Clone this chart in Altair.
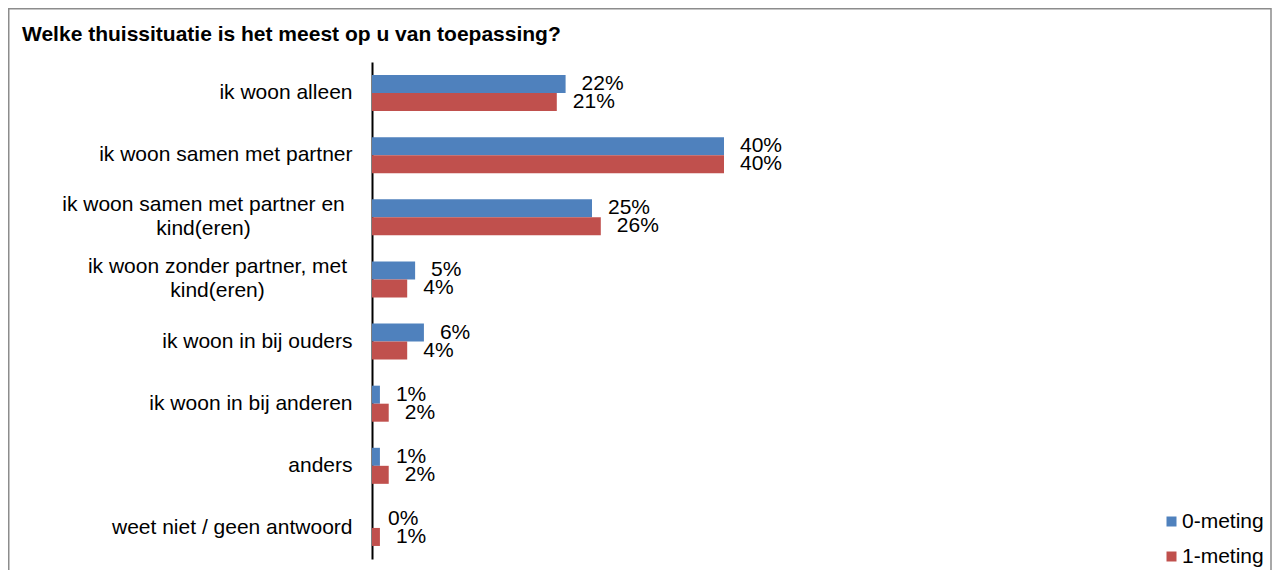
import altair as alt
import pandas as pd

title_text = "Welke thuissituatie is het meest op u van toepassing?"
categories = [
    "ik woon alleen",
    "ik woon samen met partner",
    "ik woon samen met partner en\nkind(eren)",
    "ik woon zonder partner, met\nkind(eren)",
    "ik woon in bij ouders",
    "ik woon in bij anderen",
    "anders",
    "weet niet / geen antwoord",
]
series = ["0-meting", "1-meting"]
meting0 = [22.0, 40.0, 25.0, 4.9, 5.9, 0.9, 0.9, 0.0]
meting1 = [21.0, 40.0, 26.0, 4.0, 4.0, 1.9, 1.9, 0.9]
colors = ["#4F81BD", "#C0504D"]

rows = []
for c, a, b in zip(categories, meting0, meting1):
    rows.append({"cat": c, "serie": series[0], "val": a / 100})
    rows.append({"cat": c, "serie": series[1], "val": b / 100})
df = pd.DataFrame(rows)

FONT = "Liberation Sans"
multi = "indexof(datum.value, '\\n') >= 0"

ysc = alt.Scale(paddingInner=0.42, paddingOuter=0.21)

base = alt.Chart(df).encode(
    y=alt.Y(
        "cat:N",
        sort=categories,
        scale=ysc,
        axis=alt.Axis(
            title=None,
            ticks=False,
            grid=False,
            domainColor="black",
            domainWidth=2,
            labelFont=FONT,
            labelFontSize=21,
            labelColor="black",
            labelLimit=0,
            labelLineHeight=24,
            labelExpr="split(datum.label, '\\n')",
            labelAlign={"condition": {"test": multi, "value": "center"}, "value": "right"},
            labelPadding={
                "condition": [
                    {"test": "indexof(datum.value, 'en\\n') >= 0", "value": 169},
                    {"test": "indexof(datum.value, 'met\\n') >= 0", "value": 155},
                ],
                "value": 20,
            },
            labelOffset={"condition": {"test": multi, "value": -12}, "value": 0},
        ),
    ),
    yOffset=alt.YOffset("serie:N", sort=series),
)

bars = base.mark_bar().encode(
    x=alt.X("val:Q", scale=alt.Scale(domain=[0, 0.45]), axis=None),
    color=alt.Color(
        "serie:N",
        sort=series,
        scale=alt.Scale(domain=series, range=colors),
        legend=alt.Legend(
            title=None,
            orient="none",
            legendX=789,
            legendY=449,
            symbolType="square",
            symbolSize=100,
            symbolStrokeWidth=0,
            labelFont=FONT,
            labelFontSize=21,
            labelColor="black",
            labelOffset=0,
            rowPadding=13,
            padding=0,
        ),
    ),
)

labels = base.mark_text(
    align="left", baseline="middle", dx=16, font=FONT, fontSize=21, color="black"
).encode(
    x=alt.X("val:Q", scale=alt.Scale(domain=[0, 0.45]), axis=None),
    text=alt.Text("val:Q", format=".0%"),
)

frame = alt.Chart(pd.DataFrame({"f": [0]})).mark_rect(
    fillOpacity=0, stroke="#8c8c8c", strokeWidth=1.5
).encode(
    x=alt.value(-363.25), x2=alt.value(899), y=alt.value(-53.25), y2=alt.value(520)
)

chart = (
    alt.layer(frame, bars, labels)
    .properties(
        width=396,
        height=497,
        autosize=alt.AutoSizeParams(type="none"),
        padding={"left": 364, "top": 54, "right": 504, "bottom": 11},
        title=alt.TitleParams(
            title_text,
            anchor="start",
            frame="group",
            dx=-350,
            dy=75.5,
            offset=22,
            baseline="alphabetic",
            font=FONT,
            fontSize=21,
            fontWeight="bold",
            color="black",
        ),
    )
    .configure_view(stroke=None)
)

chart.save("out.html", embed_options={"renderer": "svg", "actions": False})
